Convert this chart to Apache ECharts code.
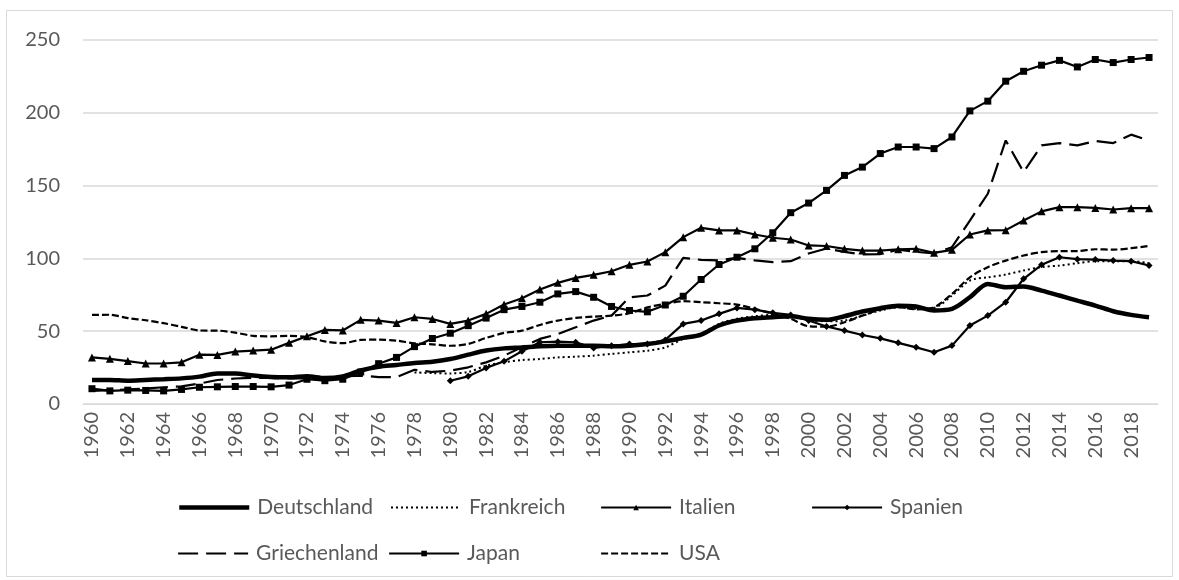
<!DOCTYPE html>
<html>
<head>
<meta charset="utf-8">
<script src="https://cdn.jsdelivr.net/npm/echarts@6/dist/echarts.min.js"></script>
<style>
  html, body { margin: 0; padding: 0; background: #fff; }
  #chart { width: 1179px; height: 580px; }
</style>
</head>
<body>
<div id="chart"></div>
<script>
  var years = []
  for (var y = 1960; y <= 2019; y++) years.push(String(y))

  var deutschland = [16.5, 16.5, 16, 16.5, 17, 17.6, 18.8, 21, 21, 19.5,
    18.5, 18.3, 19, 17.8, 19, 23, 25.6, 26.8, 28.2, 29,
    30.9, 33.9, 36.7, 38.2, 38.8, 39.6, 40, 40, 40, 39.6,
    40, 41.2, 43, 45.4, 47.7, 53.9, 57.3, 58.9, 59.6, 60.3,
    58.5, 57.8, 60.3, 63.5, 65.8, 67.4, 66.9, 64.2, 65.3, 73.3,
    82.5, 80.2, 80.7, 77.9, 74.5, 71, 67.6, 63.7, 61.2, 59.6]

  var frankreich = [null, null, null, null, null, null, null, null, null, null,
    null, null, null, null, null, null, null, null, 21.7, 21.2,
    21, 22, 26.3, 28.6, 30.2, 30.9, 32, 32.5, 33.2, 34.4,
    35.5, 36.6, 38.9, 44.7, 48.1, 55, 58.5, 60.3, 61.2, 60.3,
    57.8, 56.8, 57.3, 60.7, 64.2, 66.4, 65.3, 66, 74.5, 84.8,
    87, 88.9, 91.7, 94, 95.1, 96.7, 98.1, 98.1, 98.1, 96.7]

  var italien = [32, 31, 29.5, 27.8, 27.8, 28.6, 33.9, 33.7, 36, 36.7,
    37.3, 42, 46.5, 50.9, 50.5, 57.8, 57.3, 55.7, 59.6, 58.4,
    55, 57.3, 61.9, 68.3, 72.6, 78.6, 83.2, 86.6, 88.7, 91.2,
    95.6, 97.9, 104.3, 114.6, 121, 119.2, 119.2, 116.4, 114.2, 113,
    108.9, 108.5, 106.6, 105.4, 105.4, 106.3, 106.6, 103.8, 105.9, 116.4,
    119.2, 119.4, 126, 132.3, 135.2, 135.2, 134.7, 133.6, 134.5, 134.5]

  var spanien = [null, null, null, null, null, null, null, null, null, null,
    null, null, null, null, null, null, null, null, null, null,
    16, 19, 24.8, 29.3, 36.2, 42.4, 42.8, 42.4, 38.5, 40,
    41.2, 41.2, 44, 55, 57.3, 61.9, 66, 64.8, 62.6, 61.2,
    57.3, 53.2, 50.4, 47.4, 45.1, 42, 38.9, 35.5, 40.1, 53.9,
    60.7, 69.9, 86, 95.6, 100.8, 99.5, 99.2, 98.5, 98.1, 95.1]

  var griechenland = [9, 9.5, 10, 10.7, 11.5, 12.1, 14, 16.5, 17.5, 18,
    18, 17.5, 17.5, 17, 19, 19.5, 18.5, 18.5, 23.5, 22,
    22.9, 25.2, 28.6, 33.2, 39, 44.7, 48, 52.7, 57.3, 60.7,
    73.3, 74.5, 81.3, 100.4, 99, 98.6, 100.4, 98.6, 97.4, 98.1,
    103.4, 106.8, 104.5, 102.7, 103, 106, 104.5, 103.5, 107.7, 126,
    144.4, 181, 159.3, 177.6, 179.2, 177.6, 180.6, 179.2, 185, 181]

  var japan = [10.5, 9, 9.5, 9.3, 9, 10, 11.5, 11.8, 12, 12,
    11.8, 13, 17, 16, 17, 22, 27.7, 32, 39.4, 45,
    48.6, 53.8, 59, 64.8, 67, 69.9, 75.6, 77.2, 73.3, 67,
    64.2, 63.3, 68, 74, 85.5, 95.8, 100.8, 106.6, 117.6, 131.4,
    138, 146.7, 157, 162.7, 172, 176.5, 176.5, 175.4, 183.4, 201.3,
    208, 221.7, 228.5, 232.7, 236, 231.5, 236.6, 234.5, 236.6, 238]

  var usa = [61.2, 61.3, 59, 57.5, 55.5, 53, 50.5, 50.4, 49, 46.8,
    46.5, 46.8, 46, 43, 41.8, 44, 44.2, 43.5, 41.7, 41,
    40, 41.2, 45.4, 48.8, 50.4, 54.3, 57.3, 59.1, 60, 60.7,
    62.3, 66.4, 68.8, 70.6, 69.9, 69.2, 68.3, 65.3, 61.9, 58.5,
    53.4, 53.1, 56.1, 60.7, 64.8, 66.5, 65, 66.4, 75.6, 87,
    94, 98.5, 102, 104.3, 105, 105, 106.3, 106, 107, 108.6]

  var font = 'Lato'
  var grey = '#595959'

  function line (name, data, opt) {
    return {
      name: name,
      type: 'line',
      data: data,
      symbol: opt.symbol || 'none',
      symbolSize: opt.symbolSize || 7,
      showAllSymbol: true,
      smooth: opt.smooth || false,
      connectNulls: false,
      lineStyle: { color: '#000', width: opt.width || 2.2, type: opt.type || 'solid' },
      itemStyle: { color: '#000' },
      emphasis: { disabled: true }
    }
  }

  // legend entry, placed by hand like the excel legend
  function leg (name, left, top, noMarker) {
    return {
      data: [name],
      left: left,
      top: top,
      itemWidth: 70,
      itemHeight: 7,
      padding: 0,
      lineStyle: { width: 'inherit', type: 'inherit' },
      itemStyle: noMarker ? { opacity: 0 } : {},
      textStyle: { fontFamily: font, fontSize: 21, color: grey, padding: [0, 0, 0, 3] }
    }
  }

  var myChart = echarts.init(document.getElementById('chart'))
  var option = {
    animation: false,
    backgroundColor: '#fff',
    textStyle: { fontFamily: font },
    graphic: [{
      type: 'rect',
      shape: { x: 6.5, y: 10.5, width: 1166, height: 566 },
      style: { fill: 'none', stroke: '#d9d9d9', lineWidth: 1 },
      silent: true
    }],
    grid: { left: 83, right: 21, top: 40, bottom: 176 },
    legend: [
      leg('Deutschland', 177, 497, true),
      leg('Frankreich', 390, 497, true),
      leg('Italien', 600, 497),
      leg('Spanien', 811, 497),
      leg('Griechenland', 177, 543, true),
      leg('Japan', 388, 543),
      leg('USA', 600, 543, true)
    ],
    xAxis: {
      type: 'category',
      data: years,
      boundaryGap: true,
      axisLine: { lineStyle: { color: '#d9d9d9' } },
      axisTick: { show: false },
      axisLabel: { interval: 1, rotate: 90, margin: 8, fontSize: 20, color: grey, fontFamily: font }
    },
    yAxis: {
      type: 'value',
      min: 0,
      max: 250,
      interval: 50,
      axisLine: { show: false },
      axisTick: { show: false },
      axisLabel: { margin: 23, fontSize: 20, color: grey, fontFamily: font },
      splitLine: { lineStyle: { color: '#d9d9d9', width: 1.5 } }
    },
    series: [
      line('Deutschland', deutschland, { width: 4.5, smooth: 0.3 }),
      line('Frankreich', frankreich, { width: 2, type: [2, 3], smooth: 0.3 }),
      line('Italien', italien, { symbol: 'triangle', symbolSize: 8 }),
      line('Spanien', spanien, { symbol: 'diamond', symbolSize: 7 }),
      line('Griechenland', griechenland, { type: [20, 8] }),
      line('Japan', japan, { symbol: 'rect', symbolSize: 7 }),
      line('USA', usa, { type: [7, 3], smooth: 0.3 })
    ]
  }
  myChart.setOption(option)
</script>
</body>
</html>
